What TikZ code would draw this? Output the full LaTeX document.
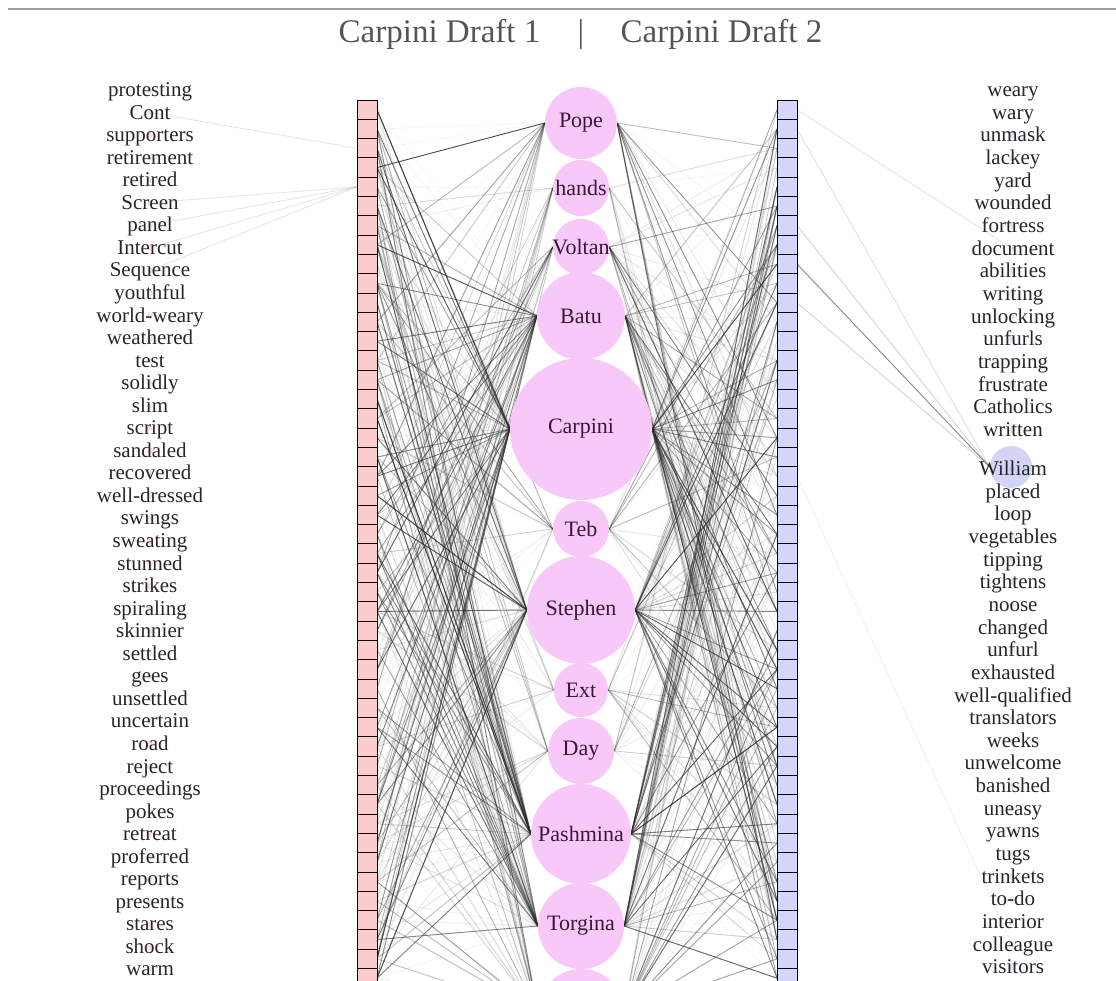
\documentclass[tikz,border=0pt]{standalone}
\usepackage{fontspec}
\setmainfont{Liberation Serif}
\definecolor{hubpink}{RGB}{248,200,248}
\definecolor{hubtxt}{RGB}{55,25,55}
\definecolor{barred}{RGB}{252,204,204}
\definecolor{barblue}{RGB}{214,214,252}
\definecolor{wdblue}{RGB}{212,212,246}
\definecolor{titlegray}{RGB}{85,85,85}
\definecolor{linkgray}{RGB}{40,40,40}
\pgfdeclarelayer{bg}
\pgfsetlayers{bg,main}
\tikzset{
  hub/.style={circle, fill=hubpink, inner sep=0pt, draw=none},
  hublabel/.style={text=hubtxt, inner sep=0pt, font=\fontsize{22}{22}\selectfont},
  word/.style={text=black!85, inner sep=0pt, anchor=base, font=\fontsize{21}{21}\selectfont},
  title/.style={text=titlegray, inner sep=0pt, anchor=base, font=\fontsize{33}{33}\selectfont},
  rdot/.style={circle, fill=red!60, fill opacity=0.22, inner sep=0pt, minimum size=6pt, draw=none},
  bdot/.style={circle, fill=blue!60, fill opacity=0.18, inner sep=0pt, minimum size=6pt, draw=none},
  link/.style={line width=0.9pt, draw=linkgray},
  faint/.style={line width=0.9pt, draw=linkgray, draw opacity=0.12},
  cellL/.style={draw=black, line width=0.9pt, fill=barred},
  cellR/.style={draw=black, line width=0.9pt, fill=barblue},
}
\newcommand\hublinks[3]{%
  \foreach \k in {1,...,#2}{%
    \pgfmathrandominteger{\ca}{1}{46}%
    \pgfmathsetmacro{\oa}{0.03+#3*pow(rnd,2.4)}%
    \draw[link, draw opacity=\oa] (L\ca) -- (#1.west);
    \pgfmathrandominteger{\cb}{1}{46}%
    \pgfmathsetmacro{\ob}{0.03+#3*pow(rnd,2.4)}%
    \draw[link, draw opacity=\ob] (#1.east) -- (R\cb);
  }}
\begin{document}
\begin{tikzpicture}[x=1pt,y=-1pt]
\useasboundingbox (0,0) rectangle (1116,980);
\clip (0,0) rectangle (1116,980);
\pgfmathsetseed{7}

% top rule and title
\draw[gray!75, line width=2pt] (8,9) -- (1116,9);
\node[title] (t1) at (439.5,42) {Carpini Draft 1};
\node[title] (tbar) at (581,42) {|};
\node[title] (t2) at (721.5,42) {Carpini Draft 2};

% bar cell anchors
\foreach \i in {1,...,46}{
  \coordinate (L\i) at (377,{100+19.3*(\i-0.5)});
  \coordinate (LL\i) at (357,{100+19.3*(\i-0.5)});
  \coordinate (R\i) at (777,{100+19.3*(\i-0.5)});
  \coordinate (RR\i) at (797,{100+19.3*(\i-0.5)});
}

% hubs
\node[hub, minimum size=72pt] (Pope) at (581,123) {};
\node[hub, minimum size=56pt] (hands) at (581,188) {};
\node[hub, minimum size=56pt] (Voltan) at (581,247) {};
\node[hub, minimum size=88pt] (Batu) at (581,316) {};
\node[hub, minimum size=142pt] (Carpini) at (581,429) {};
\node[hub, minimum size=56pt] (Teb) at (581,529) {};
\node[hub, minimum size=108pt] (Stephen) at (581,610) {};
\node[hub, minimum size=54pt] (Ext) at (581,690) {};
\node[hub, minimum size=66pt] (Day) at (581,751) {};
\node[hub, minimum size=100pt] (Pashmina) at (581,834) {};
\node[hub, minimum size=86pt] (Torgina) at (581,926) {};
\node[hub, minimum size=86pt] (last) at (581,1012) {};

\foreach \h in {Pope,hands,Voltan,Batu,Carpini,Teb,Stephen,Ext,Day,Pashmina,Torgina}{
  \node[hublabel] (\h-l) at (\h) {\h};
}

% word lists
\foreach \w [count=\i] in {protesting,Cont,supporters,retirement,retired,Screen,panel,Intercut,Sequence,youthful,world-weary,weathered,test,solidly,slim,script,sandaled,recovered,well-dressed,swings,sweating,stunned,strikes,spiraling,skinnier,settled,gees,unsettled,uncertain,road,reject,proceedings,pokes,retreat,proferred,reports,presents,stares,shock,warm}{
  \pgfmathsetmacro{\yy}{90+22.55*(\i-1)}
  \node[rdot] (ld\i) at (150,\yy) {};
  \node[word] (lw\i) at (150,\yy+6.5) {\w};
}
\node[circle, fill=wdblue, inner sep=0pt, minimum size=42pt] (wdot) at (1011,467) {};
\foreach \w [count=\i] in {weary,wary,unmask,lackey,yard,wounded,fortress,document,abilities,writing,unlocking,unfurls,trapping,frustrate,Catholics,written,William,placed,loop,vegetables,tipping,tightens,noose,changed,unfurl,exhausted,well-qualified,translators,weeks,unwelcome,banished,uneasy,yawns,tugs,trinkets,to-do,interior,colleague,visitors}{
  \pgfmathsetmacro{\yy}{\i<17 ? 90+22.67*(\i-1) : 469+22.65*(\i-17)}
  \node[bdot] (rd\i) at (1012,\yy) {};
  \node[word] (rw\i) at (1013,\yy+6.5) {\w};
}

% connectors (behind)
\begin{pgfonlayer}{bg}
\hublinks{Pope}{20}{0.5}
\hublinks{hands}{14}{0.3}
\hublinks{Voltan}{18}{0.55}
\hublinks{Batu}{36}{0.6}
\hublinks{Carpini}{62}{0.7}
\hublinks{Teb}{18}{0.4}
\hublinks{Stephen}{50}{0.65}
\hublinks{Ext}{16}{0.28}
\hublinks{Day}{16}{0.28}
\hublinks{Pashmina}{48}{0.65}
\hublinks{Torgina}{40}{0.6}
\hublinks{last}{30}{0.5}
\draw[link, draw opacity=0.85] (L4) -- (Pope.west);
% word to bar
\draw[faint] (ld2) -- (LL3);
\draw[faint] (ld6) -- (LL5);
\draw[faint] (ld7) -- (LL5);
\draw[faint] (ld8) -- (LL5);
\draw[faint] (ld9) -- (LL5);
% right bar to words
\draw[faint] (RR1) -- (rd8);
\draw[link, draw opacity=0.15] (RR2) -- (wdot.west);
\draw[link, draw opacity=0.2] (RR7) -- (wdot.west);
\draw[link, draw opacity=0.55] (RR9) -- (wdot.west);
\draw[link, draw opacity=0.2] (RR11) -- (wdot.west);
\draw[link, draw opacity=0.08] (RR20) -- (rd38);
\end{pgfonlayer}

% bars
\foreach \i in {1,...,46}{
  \draw[cellL] (357,{100+19.3*(\i-1)}) rectangle (377,{100+19.3*\i});
  \draw[cellR] (777,{100+19.3*(\i-1)}) rectangle (797,{100+19.3*\i});
}
\end{tikzpicture}
\end{document}
